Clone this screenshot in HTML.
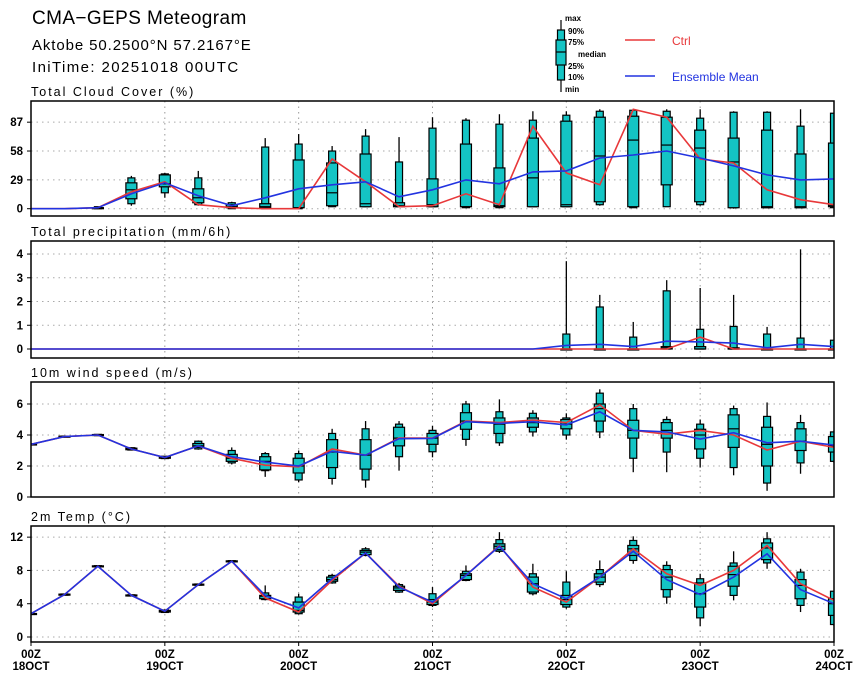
<!DOCTYPE html>
<html><head><meta charset="utf-8"><style>
body{margin:0;background:#fff;}
svg{display:block;font-family:"Liberation Sans",sans-serif;}
.tk{font-size:11.5px;font-weight:bold;fill:#000;}
.pt{font-size:12.5px;fill:#000;letter-spacing:2px;}
</style></head><body>
<svg id="chart" width="860" height="680" viewBox="0 0 860 680" xmlns="http://www.w3.org/2000/svg">
<text x="32" y="24" font-size="19" letter-spacing="0.4">CMA−GEPS Meteogram</text>
<text x="32" y="50" font-size="15" letter-spacing="0.9">Aktobe 50.2500°N 57.2167°E</text>
<text x="32" y="72" font-size="15" letter-spacing="1.4">IniTime: 20251018 00UTC</text>
<g font-size="8" font-weight="bold">
  <line x1="561" y1="20" x2="561" y2="92" stroke="#000" stroke-width="1.2"/>
  <rect x="557.5" y="30" width="7" height="50" fill="#14c4c4" stroke="#000" stroke-width="1.2"/>
  <rect x="556" y="40" width="10" height="25" fill="#14c4c4" stroke="#000" stroke-width="1.2"/>
  <line x1="556" y1="52" x2="566" y2="52" stroke="#000" stroke-width="1.2"/>
  <text x="565" y="21">max</text><text x="568" y="34">90%</text><text x="568" y="45">75%</text>
  <text x="578" y="57">median</text><text x="568" y="69">25%</text><text x="568" y="80">10%</text><text x="565" y="92">min</text>
  <line x1="625" y1="40" x2="655" y2="40" stroke="#e8383a" stroke-width="1.5"/>
  <text x="672" y="45" font-size="12" font-weight="normal" fill="#e8383a">Ctrl</text>
  <line x1="625" y1="76" x2="655" y2="76" stroke="#2233e0" stroke-width="1.5"/>
  <text x="672" y="81" font-size="12" font-weight="normal" fill="#2233e0">Ensemble Mean</text>
</g>
<g id="plots"></g>
</svg>
<script>
// ---- data (25 time steps, every 6h from 18OCT 00Z) ----
const dayLabels = ["18OCT","19OCT","20OCT","21OCT","22OCT","23OCT","24OCT"];
const cloudTicks = [0,29,58,87];
const precipTicks = [0,1,2,3,4];
const windTicks = [0,2,4,6];
const tempTicks = [0,4,8,12];

const cloudCtrl = [0,0,1,17,27,4,1,0,0,50,27,2,3,15,4,83,36,24,100,92,50,46,19,9,4];
const cloudMean = [0,0,1,15,26,13,3,11,20,24,27,12,19,29,25,37,38,51,54,58,51,43,34,29,30];
const cloudMin = [0,0,0,3,11,3,0,0,0,2,2,2,2,1,1,2,2,3,1,2,3,0,1,1,1];
const cloudP10 = [0,0,0,5,16,4,0,0,0,2,2,2,2,1,1,2,2,4,1,2,4,1,1,1,1];
const cloudP25 = [0,0,0,10,22,6,1,1,1,3,2,2,2,2,2,2,2,7,2,24,7,1,1,1,2];
const cloudMed = [0,0,1,19,25,11,2,2,1,16,5,3,4,2,3,31,4,53,69,64,61,47,2,2,3];
const cloudP75 = [0,0,1,26,34,20,4,5,49,46,55,6,30,65,41,71,88,92,93,92,79,71,79,55,66];
const cloudP90 = [0,0,2,31,35,31,6,62,65,58,73,47,81,89,85,89,94,98,99,98,91,97,97,83,96];
const cloudMax = [0,0,2,33,36,38,7,71,75,63,80,72,92,91,95,98,98,100,100,100,100,98,98,100,96];

const precipCtrl = [0,0,0,0,0,0,0,0,0,0,0,0,0,0,0,0,0,0,0,0,0.5,0,0,0,0];
const precipMean = [0,0,0,0,0,0,0,0,0,0,0,0,0,0,0,0,0.15,0.2,0.1,0.33,0.3,0.25,0.05,0.2,0.1];
const precipMin = [0,0,0,0,0,0,0,0,0,0,0,0,0,0,0,0,0,0,0,0,0,0,0,0,0];
const precipP10 = [0,0,0,0,0,0,0,0,0,0,0,0,0,0,0,0,0,0,0,0,0,0,0,0,0];
const precipP25 = [0,0,0,0,0,0,0,0,0,0,0,0,0,0,0,0,0,0,0,0,0,0,0,0,0];
const precipMed = [0,0,0,0,0,0,0,0,0,0,0,0,0,0,0,0,0,0,0,0.05,0,0,0,0,0];
const precipP75 = [0,0,0,0,0,0,0,0,0,0,0,0,0,0,0,0,0,0,0,0.1,0.1,0.05,0,0,0];
const precipP90 = [0,0,0,0,0,0,0,0,0,0,0,0,0,0,0,0,0.63,1.77,0.5,2.45,0.83,0.95,0.63,0.46,0.37];
const precipMax = [0,0,0,0,0,0,0,0,0,0,0,0,0,0,0,0,3.7,2.28,1.14,2.9,2.57,2.28,0.93,4.2,0.4];

const windCtrl = [3.4,3.9,4.0,3.1,2.55,3.3,2.5,2.05,1.95,3.1,2.7,3.8,3.8,4.9,4.8,4.97,4.8,5.94,4.3,4.05,4.3,4.0,3.03,3.6,3.2];
const windMean = [3.4,3.9,4.0,3.1,2.55,3.3,2.6,2.25,2.0,2.95,2.7,3.76,3.78,4.86,4.75,4.86,4.65,5.5,4.3,4.2,3.74,4.15,3.5,3.6,3.35];
const windMin = [3.35,3.85,3.95,3.0,2.45,3.05,2.1,1.3,0.95,0.8,0.6,1.7,2.56,3.3,3.3,3.9,3.7,3.8,1.6,1.6,1.9,1.4,0.4,1.5,2.2];
const windP10 = [3.37,3.87,3.96,3.03,2.48,3.1,2.2,1.7,1.1,1.2,1.1,2.6,2.92,3.72,3.5,4.2,4.0,4.2,2.5,2.9,2.5,1.9,0.9,2.2,2.3];
const windP25 = [3.38,3.88,3.97,3.05,2.5,3.2,2.3,1.75,1.55,1.9,1.8,3.3,3.4,4.37,4.1,4.5,4.4,4.9,3.8,3.8,3.1,3.2,2.0,3.0,2.9];
const windMed = [3.4,3.9,4.0,3.1,2.55,3.3,2.5,2.3,2.0,2.9,2.7,3.8,3.8,4.9,4.7,4.8,4.7,5.7,4.3,4.3,4.0,4.4,3.4,3.6,3.3];
const windP75 = [3.42,3.92,4.03,3.15,2.6,3.45,2.75,2.6,2.5,3.7,3.7,4.5,4.1,5.44,5.1,5.1,5.0,6.0,4.95,4.8,4.37,5.3,4.5,4.4,3.9];
const windP90 = [3.43,3.93,4.04,3.18,2.63,3.6,3.0,2.8,2.8,4.1,4.4,4.7,4.3,6.0,5.5,5.4,5.1,6.7,5.7,5.0,4.7,5.7,5.2,4.8,4.2];
const windMax = [3.45,3.95,4.05,3.2,2.65,3.65,3.2,2.9,3.0,4.4,4.9,4.9,4.6,6.2,6.3,5.6,5.4,6.95,6.0,5.2,5.0,5.9,6.1,5.3,4.3];

const tempCtrl = [2.8,5.1,8.5,5.0,3.1,6.3,9.1,4.7,3.0,6.8,10.1,6.1,4.0,7.4,11.0,6.0,4.2,7.2,10.6,7.6,6.2,8.0,11.0,6.4,4.4];
const tempMean = [2.8,5.1,8.5,5.0,3.1,6.3,9.1,5.0,3.5,7.0,10.1,6.0,4.2,7.4,10.9,6.4,4.6,7.2,10.3,6.9,5.1,7.2,10.0,5.7,4.0];
const tempMin = [2.75,5.0,8.4,4.9,2.9,6.2,9.0,4.4,2.7,6.4,9.7,5.3,3.6,6.7,10.1,5.0,3.4,6.0,8.8,4.0,1.3,4.4,8.2,3.0,1.3];
const tempP10 = [2.77,5.03,8.43,4.93,2.95,6.23,9.03,4.5,2.8,6.5,9.8,5.4,3.8,6.8,10.3,5.2,3.6,6.3,9.2,4.8,2.3,5.0,8.9,3.8,1.5];
const tempP25 = [2.78,5.05,8.45,4.95,3.0,6.25,9.05,4.6,3.0,6.7,9.9,5.6,3.9,6.9,10.5,5.4,3.9,6.6,9.8,5.7,3.6,6.1,9.3,4.6,2.6];
const tempMed = [2.8,5.1,8.5,5.0,3.1,6.3,9.1,4.9,3.2,6.9,10.2,5.9,4.2,7.4,10.9,6.4,4.5,7.2,10.6,7.2,5.2,7.5,10.7,6.2,4.0];
const tempP75 = [2.82,5.15,8.55,5.05,3.2,6.35,9.15,5.0,4.2,7.2,10.4,6.1,4.5,7.6,11.2,7.2,5.0,7.6,11.0,8.1,6.5,8.5,11.3,6.9,4.6];
const tempP90 = [2.83,5.17,8.57,5.07,3.25,6.37,9.17,5.3,4.8,7.4,10.6,6.3,5.2,7.9,11.7,7.6,6.6,8.1,11.6,8.6,7.0,8.9,11.8,7.8,5.5];
const tempMax = [2.85,5.2,8.6,5.1,3.3,6.4,9.2,6.2,5.2,7.6,10.8,6.5,6.0,8.6,12.6,8.8,7.9,9.2,12.1,9.1,7.6,10.3,12.6,8.2,5.5];

// ---- layout ----
const X0 = 31, X1 = 834, N = 25;
function xAt(i){ return X0 + (X1 - X0) * i / (N - 1); }
const NS = "http://www.w3.org/2000/svg";
const root = document.getElementById('plots');
function el(tag, attrs, parent){
  const e = document.createElementNS(NS, tag);
  for (const k in attrs) e.setAttribute(k, attrs[k]);
  (parent || root).appendChild(e);
  return e;
}
const panels = [
  {name:"cloud", title:"Total Cloud Cover (%)", top:101, bot:216, vmax:108.3, zeroY:208.7, ticks:cloudTicks,
   ctrl:cloudCtrl, mean:cloudMean, bx:[cloudMin,cloudP10,cloudP25,cloudMed,cloudP75,cloudP90,cloudMax]},
  {name:"precip", title:"Total precipitation (mm/6h)", top:241, bot:358, vmax:4.55, zeroY:349, ticks:precipTicks,
   ctrl:precipCtrl, mean:precipMean, bx:[precipMin,precipP10,precipP25,precipMed,precipP75,precipP90,precipMax]},
  {name:"wind", title:"10m wind speed (m/s)", top:382, bot:497, vmax:7.42, zeroY:497, ticks:windTicks,
   ctrl:windCtrl, mean:windMean, bx:[windMin,windP10,windP25,windMed,windP75,windP90,windMax]},
  {name:"temp", title:"2m Temp (°C)", top:526, bot:642, vmax:13.34, zeroY:637, ticks:tempTicks,
   ctrl:tempCtrl, mean:tempMean, bx:[tempMin,tempP10,tempP25,tempMed,tempP75,tempP90,tempMax]}
];
panels.forEach((p, pi) => {
  const scale = (p.zeroY - p.top) / p.vmax;
  const yAt = v => p.zeroY - v * scale;
  const g = el('g', {});
  
  
  const clipId = 'clip' + pi;
  const cp = el('clipPath', {id: clipId}, g);
  el('rect', {x: X0, y: p.top, width: X1 - X0, height: p.bot - p.top}, cp);
  const t = el('text', {x: 31, y: p.top - 5, class: 'pt'}, g);
  t.textContent = p.title;
  
  
  for (let d = 1; d < 6; d++) {
    const gl = el('line', {x1: xAt(d*4), x2: xAt(d*4), y1: p.top, y2: p.bot, stroke: '#999', 'stroke-dasharray': '1.5,4', 'stroke-width': 1}, g);
    
    
  }
  p.ticks.forEach(v => {
    const y = yAt(v);
    const hl = el('line', {x1: X0, x2: X1, y1: y, y2: y, stroke: '#aaa', 'stroke-dasharray': '1.5,4', 'stroke-width': 1}, g);
    
    
    el('line', {x1: X0 - 4, x2: X0, y1: y, y2: y, stroke: '#000', 'stroke-width': 1}, g);
    const lb = el('text', {x: X0 - 8, y: y + 4, class: 'tk', 'text-anchor': 'end'}, g);
    lb.textContent = v;
    
    
  });
  const cg = el('g', {'clip-path': 'url(#' + clipId + ')'}, g);
  for (let i = 0; i < N; i++) {
    const [mn, p10, p25, md, p75, p90, mx] = p.bx.map(a => a[i]);
    if (mx <= 0) continue;
    const x = xAt(i);
    const bg = el('g', {}, cg);
    
    
    el('line', {x1: x, x2: x, y1: yAt(mx), y2: yAt(mn), stroke: '#000', 'stroke-width': 1.3}, bg);
    el('rect', {x: x - 3.5, y: yAt(p90), width: 7, height: Math.max(1, yAt(p10) - yAt(p90)), fill: '#14c4c4', stroke: '#000', 'stroke-width': 1.2}, bg);
    el('rect', {x: x - 5.5, y: yAt(p75), width: 11, height: Math.max(1, yAt(p25) - yAt(p75)), fill: '#14c4c4', stroke: '#000', 'stroke-width': 1.2}, bg);
    el('line', {x1: x - 5.5, x2: x + 5.5, y1: yAt(md), y2: yAt(md), stroke: '#000', 'stroke-width': 1.2}, bg);
  }
  const ptsC = p.ctrl.map((v, i) => xAt(i).toFixed(1) + ',' + yAt(v).toFixed(1)).join(' ');
  const lc = el('polyline', {points: ptsC, fill: 'none', stroke: '#e8383a', 'stroke-width': 1.6}, cg);
  
  
  const ptsM = p.mean.map((v, i) => xAt(i).toFixed(1) + ',' + yAt(v).toFixed(1)).join(' ');
  const lm = el('polyline', {points: ptsM, fill: 'none', stroke: '#2233e0', 'stroke-width': 1.6}, cg);
  
  
  const fr = el('rect', {x: X0, y: p.top, width: X1 - X0, height: p.bot - p.top, fill: 'none', stroke: '#000', 'stroke-width': 1.5}, g);
  
  
  if (pi === 3) {
    dayLabels.forEach((d, k) => {
      const x = xAt(k * 4);
      el('line', {x1: x, x2: x, y1: p.bot, y2: p.bot + 4, stroke: '#000', 'stroke-width': 1}, g);
      const a = el('text', {x: x, y: 658, class: 'tk', 'text-anchor': 'middle', 'font-size': '10'}, g);
      a.textContent = '00Z';
      
      
      const b = el('text', {x: x, y: 670, class: 'tk', 'text-anchor': 'middle', 'font-size': '10'}, g);
      b.textContent = d;
      
      
    });
  }
});
</script>
</body></html>
